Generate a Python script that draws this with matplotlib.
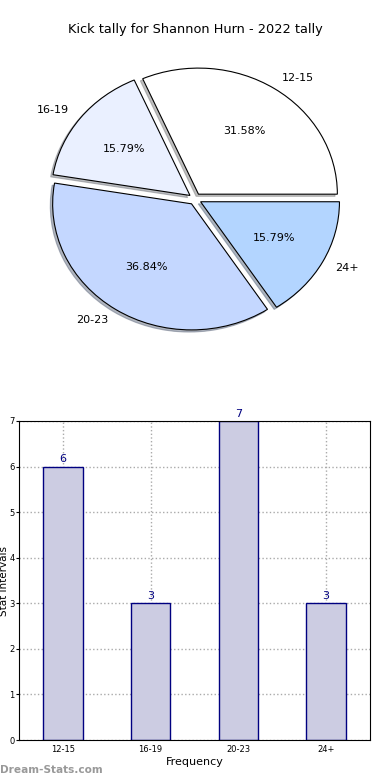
import numpy as np
from matplotlib import pyplot as plt

# data
categories = ['12-15', '16-19', '20-23', '24+']
counts = [6, 3, 7, 3]
pie_colors = ['#ffffff', '#eaf0ff', '#c4d7ff', '#b3d5ff']
title = 'Kick tally for Shannon Hurn - 2022 tally'

fig = plt.figure(figsize=(3.9, 7.8), dpi=100)
W, H = 390.0, 780.0

# pie (elliptical, not equal aspect)
ax1 = fig.add_axes([0, (H - 350) / H, 1, 300 / H])
ax1.pie(counts, labels=categories, colors=pie_colors, autopct='%1.2f%%',
        startangle=0, counterclock=True, explode=[0.045] * 4, radius=0.985,
        shadow={'ox': -0.012, 'oy': -0.012, 'shade': 0.5},
        wedgeprops=dict(edgecolor='black', linewidth=0.8),
        textprops=dict(fontsize=8))
ax1.set_aspect('auto')
ax1.set_xlim(-195 / 141, 195 / 141)
ax1.set_ylim(-151 / 128, 149 / 128)
ax1.axis('off')
fig.text(0.5, 1 - 30 / H, title, ha='center', va='center', fontsize=9.3)

# bar chart
ax2 = fig.add_axes([19 / W, (H - 740) / H, 351 / W, 319 / H])
x = np.arange(len(categories))
ax2.bar(x, counts, width=0.45, color='#ccccE2', edgecolor='navy', linewidth=1, zorder=2)
for xi, c in zip(x, counts):
    ax2.text(xi, c + 0.05, str(c), ha='center', va='bottom', color='navy', fontsize=8)
ax2.set_xlim(-0.5, 3.5)
ax2.set_ylim(0, 7)
ax2.set_xticks(x)
ax2.set_xticklabels(categories, fontsize=6)
ax2.set_yticks(range(8))
ax2.tick_params(axis='y', labelsize=6, length=2, pad=1.2)
ax2.tick_params(axis='x', length=0)
ax2.grid(True, linestyle=':', color='#aaaaaa', linewidth=1, zorder=0)
ax2.set_axisbelow(True)
ax2.set_xlabel('Frequency', fontsize=8, labelpad=2)
ax2.set_ylabel('Stat intervals', fontsize=7.5)
ax2.yaxis.set_label_coords(-10 / 351, 0.5)

fig.text(0, 1 - 770 / H, 'Dream-Stats.com', ha='left', va='center',
         fontsize=7.6, color='#999999', fontweight='bold')

fig.savefig('out.png', dpi=100)
